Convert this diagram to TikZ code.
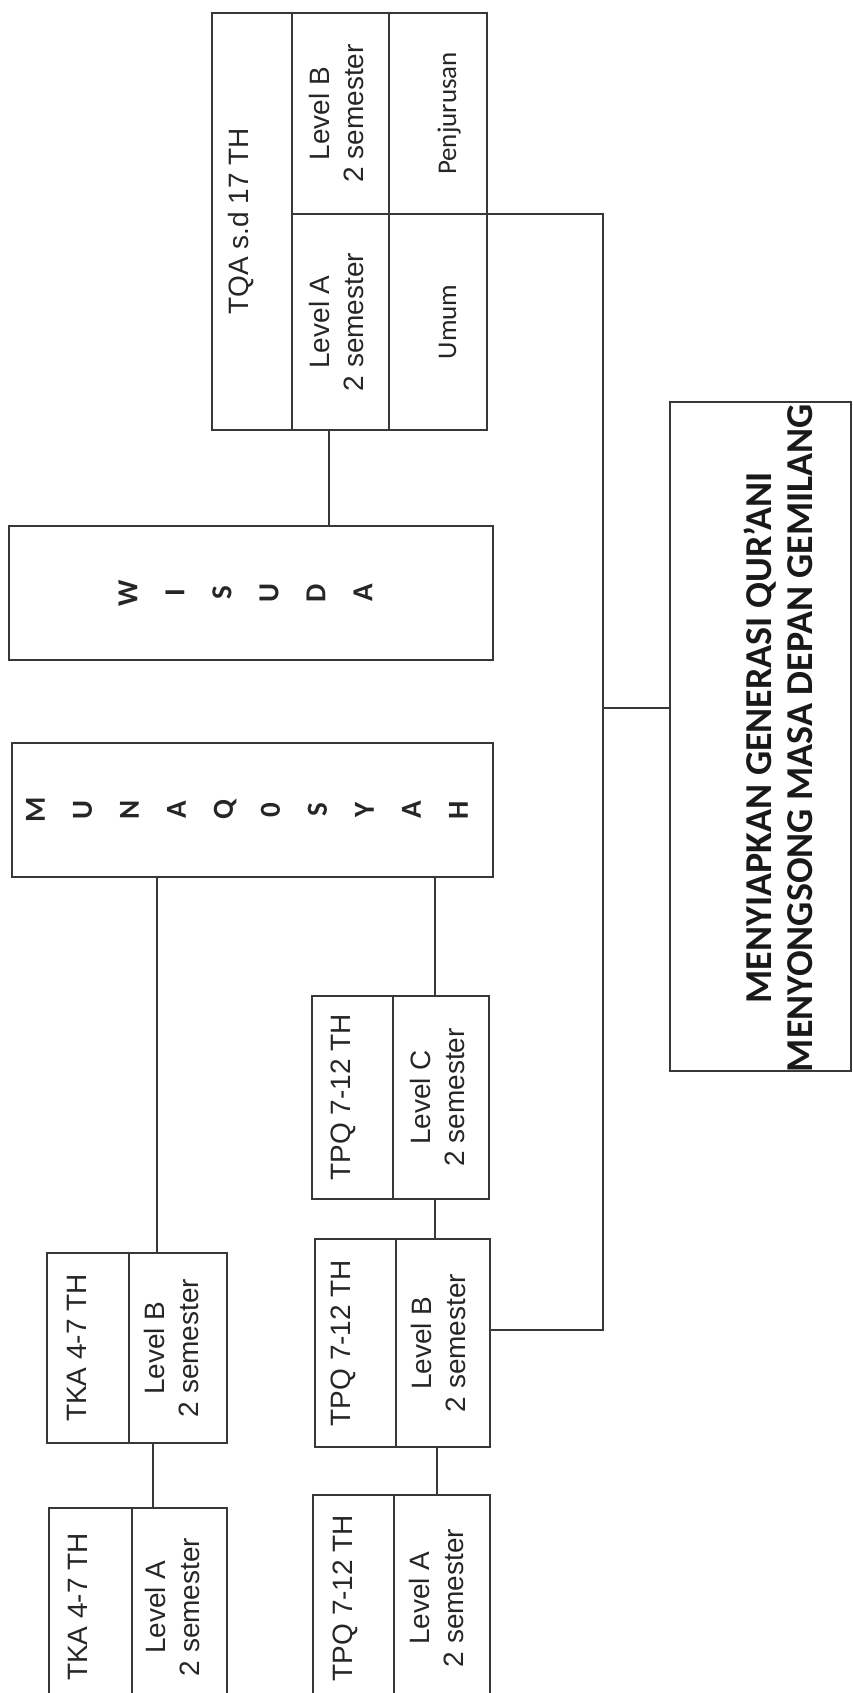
\documentclass[tikz,border=0pt]{standalone}
\usepackage{fontspec}
\setmainfont{Liberation Sans}
\newfontfamily\calib{Carlito}
\usetikzlibrary{calc}
\begin{document}
\begin{tikzpicture}[x=1pt,y=-1pt,
  line/.style={draw=black!78, line width=1.4pt},
  box/.style={line, rectangle, inner sep=0pt, outer sep=0pt},
  lbl/.style={rotate=90, inner sep=0pt, font=\fontsize{28}{34}\selectfont, text=black!85},
  two/.style={lbl, align=center},
  small/.style={rotate=90, inner sep=0pt, font=\calib\fontsize{27}{30}\selectfont, text=black!85},
  spaced/.style={rotate=90, inner sep=0pt, align=center, font=\calib\bfseries\fontsize{29}{47}\selectfont, text=black!85},
  goaltxt/.style={rotate=90, inner sep=0pt, align=center, font=\calib\bfseries\fontsize{38}{41}\selectfont, text=black!90}]
\useasboundingbox (0,0) rectangle (853,1693);
\clip (0,0) rectangle (853,1693);

% TQA
\node[box, minimum width=275pt, minimum height=417pt] (tqa) at (349.5,221.5) {};
\draw[line] (292,13) -- (292,430);
\draw[line] (389,13) -- (389,430);
\draw[line] (292,214) -- (487,214);
\node[lbl, anchor=base] (tqat) at (248,221.5) {TQA s.d 17 TH};
\node[two] (tqab) at (336,113.5) {Level B\\2 semester};
\node[two] (tqaa) at (336,322) {Level A\\2 semester};
\node[small, anchor=base] (pj) at (456,113.5) {Penjurusan};
\node[small, anchor=base] (um) at (456,322) {Umum};

% WISUDA
\node[box, minimum width=484pt, minimum height=134pt] (wis) at (251,593) {};
\node[spaced] (wist) at (245.5,593) {W\\I\\S\\U\\D\\A};

% MUNAQOSYAH
\node[box, minimum width=481pt, minimum height=134pt] (mun) at (252.5,810) {};
\node[spaced] (munt) at (247,810) {M\\U\\N\\A\\Q\\0\\S\\Y\\A\\H};

% TPQ C
\node[box, minimum width=177pt, minimum height=203pt] (tpqc) at (400.5,1097.5) {};
\draw[line] (393,996) -- (393,1199);
\node[lbl, anchor=base] (tpqct) at (350,1097.5) {TPQ 7-12 TH};
\node[two] (tpqcl) at (437,1097.5) {Level C\\2 semester};

% TPQ B
\node[box, minimum width=175pt, minimum height=208pt] (tpqb) at (402.5,1343) {};
\draw[line] (396,1239) -- (396,1447);
\node[lbl, anchor=base] (tpqbt) at (350,1343) {TPQ 7-12 TH};
\node[two] (tpqbl) at (438,1343) {Level B\\2 semester};

% TPQ A
\node[box, minimum width=177pt, minimum height=206pt] (tpqa) at (401.5,1598) {};
\draw[line] (394,1495) -- (394,1701);
\node[lbl, anchor=base] (tpqat) at (352,1598) {TPQ 7-12 TH};
\node[two] (tpqal) at (436,1598) {Level A\\2 semester};

% TKA B
\node[box, minimum width=180pt, minimum height=190pt] (tkab) at (137,1348) {};
\draw[line] (129,1253) -- (129,1443);
\node[lbl, anchor=base] (tkabt) at (86,1348) {TKA 4-7 TH};
\node[two] (tkabl) at (171,1348) {Level B\\2 semester};

% TKA A
\node[box, minimum width=178pt, minimum height=198pt] (tkaa) at (138,1607) {};
\draw[line] (132,1508) -- (132,1706);
\node[lbl, anchor=base] (tkaat) at (87,1607) {TKA 4-7 TH};
\node[two] (tkaal) at (172,1607) {Level A\\2 semester};

% Goal
\node[box, minimum width=181pt, minimum height=669pt] (goal) at (760.5,736.5) {};
\node[goaltxt] (goalt) at (778,738) {MENYIAPKAN GENERASI QUR’ANI\\MENYONGSONG MASA DEPAN GEMILANG};

% connectors
\coordinate (k1) at (329,0);
\coordinate (k2) at (157,0);
\coordinate (k3) at (435,0);
\coordinate (k4) at (437,0);
\coordinate (k5) at (153,0);
\coordinate (trunk) at (603,0);
\coordinate (r1) at (0,214);
\coordinate (r2) at (0,1330);
\coordinate (r3) at (0,708);
\draw[line] (tqa.south -| k1) -- (wis.north -| k1);
\draw[line] (mun.south -| k2) -- (tkab.north -| k2);
\draw[line] (mun.south -| k3) -- (tpqc.north -| k3);
\draw[line] (tpqc.south -| k3) -- (tpqb.north -| k3);
\draw[line] (tpqb.south -| k4) -- (tpqa.north -| k4);
\draw[line] (tkab.south -| k5) -- (tkaa.north -| k5);
\draw[line] (tqa.east |- r1) -| (trunk |- r2) -- (tpqb.east |- r2);
\draw[line] (trunk |- r3) -- (goal.west |- r3);
\end{tikzpicture}
\end{document}
